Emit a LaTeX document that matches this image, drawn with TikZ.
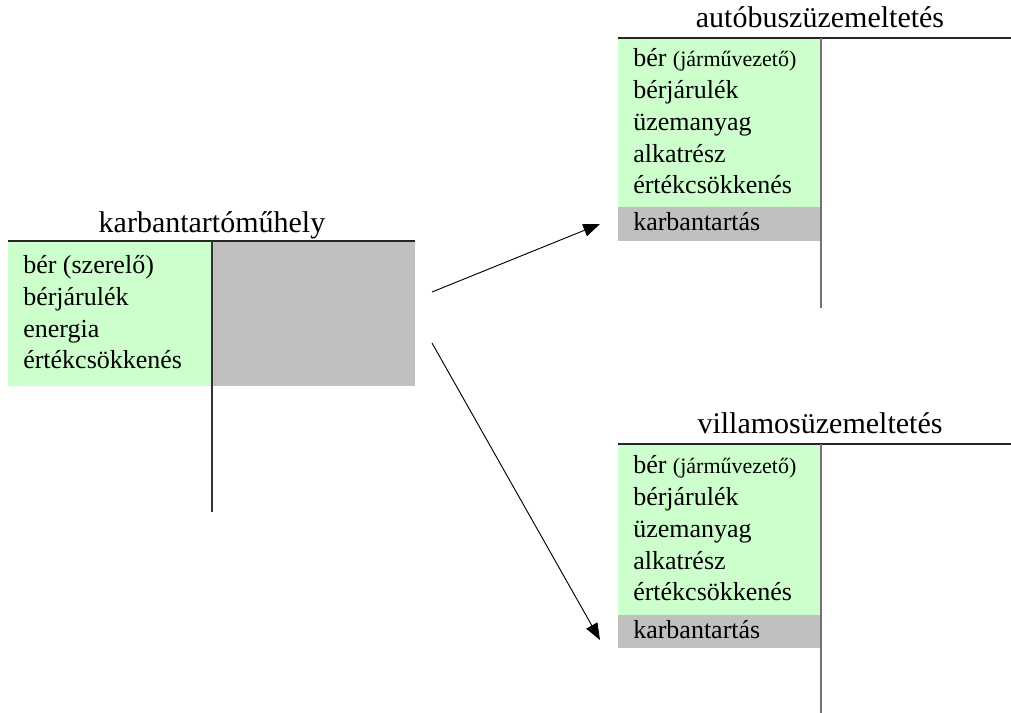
\documentclass[tikz,border=0pt]{standalone}
\usepackage{fontspec}
\setmainfont{Liberation Serif}
\usetikzlibrary{arrows.meta}
\definecolor{lgreen}{HTML}{CCFFCC}
\definecolor{lgray}{HTML}{C0C0C0}
\newcommand{\smallnote}[1]{{\fontsize{16.5}{20}\selectfont #1}}
\begin{document}
\begin{tikzpicture}[x=0.75pt,y=-0.75pt,
  acctitle/.style={font=\fontsize{22.5}{27}\selectfont, anchor=base, inner sep=0pt},
  item/.style={font=\fontsize{19.5}{23}\selectfont, anchor=base west, inner sep=0pt},
  toprule/.style={draw=black!85, line width=0.8pt},
  midrule/.style={draw=black!80, line width=0.8pt},
  midrulegray/.style={draw=black!55, line width=1.1pt},
  flow/.style={draw=black, line width=0.7pt, -{Triangle[length=12.5pt, width=9.5pt]}}
]
\useasboundingbox (0,0) rectangle (1011,713);

% left account: karbantartóműhely
\fill[lgreen] (8,241) rectangle (212,386);
\fill[lgray] (212,241) rectangle (415,386);
\draw[toprule] (8,241) -- (415,241);
\draw[midrule] (212,241) -- (212,512);
\node[acctitle] (kt) at (212,233) {karbantartóműhely};
\node[item] (k1) at (23,274) {bér (szerelő)};
\node[item] (k2) at (23,305.5) {bérjárulék};
\node[item] (k3) at (23,337) {energia};
\node[item] (k4) at (23,368) {értékcsökkenés};

% top right account: autóbuszüzemeltetés
\fill[lgreen] (618,38) rectangle (821,207);
\fill[lgray] (618,207) rectangle (821,241);
\draw[toprule] (618,38) -- (1011,38);
\draw[midrulegray] (821,38) -- (821,308);
\node[acctitle] (at) at (820,28) {autóbuszüzemeltetés};
\node[item] (a1) at (633,67) {bér \smallnote{(járművezető)}};
\node[item] (a2) at (633,99) {bérjárulék};
\node[item] (a3) at (633,131) {üzemanyag};
\node[item] (a4) at (633,162.5) {alkatrész};
\node[item] (a5) at (633,194) {értékcsökkenés};
\node[item] (a6) at (633,231) {karbantartás};

% bottom right account: villamosüzemeltetés
\fill[lgreen] (618,444) rectangle (821,615);
\fill[lgray] (618,615) rectangle (821,648);
\draw[toprule] (618,444) -- (1011,444);
\draw[midrulegray] (821,444) -- (821,713);
\node[acctitle] (vt) at (820,433) {villamosüzemeltetés};
\node[item] (v1) at (633,473) {bér \smallnote{(járművezető)}};
\node[item] (v2) at (633,505) {bérjárulék};
\node[item] (v3) at (633,537) {üzemanyag};
\node[item] (v4) at (633,569) {alkatrész};
\node[item] (v5) at (633,600) {értékcsökkenés};
\node[item] (v6) at (633,638) {karbantartás};

% arrows
\coordinate (s1) at (432,292);
\coordinate (e1) at (600,224);
\coordinate (s2) at (432,343);
\coordinate (e2) at (600,640);
\draw[flow] (s1) -- (e1);
\draw[flow] (s2) -- (e2);
\end{tikzpicture}
\end{document}
